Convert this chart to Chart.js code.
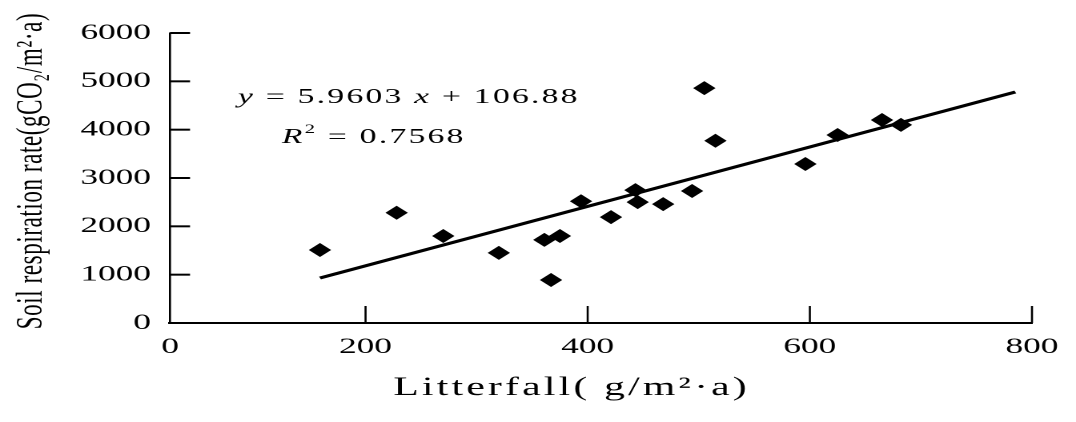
<!DOCTYPE html>
<html>
<head>
<meta charset="utf-8">
<script src="https://cdn.jsdelivr.net/npm/chart.js@4.4.1/dist/chart.umd.min.js"></script>
<style>
  html, body { margin: 0; padding: 0; background: #fff; overflow: hidden; }
  /* the scanned figure is stretched sideways, so draw narrow and widen */
  #wrap { width: 672px; height: 422px; transform: scaleX(1.60119); transform-origin: 0 0; }
</style>
</head>
<body>
<div id="wrap"><canvas id="chart" width="672" height="422"></canvas></div>
<script>
// data
const litterfall  = [159, 228, 270, 320, 361, 375, 367, 394, 421, 443, 445, 468, 494, 505, 515, 596, 625, 665, 682];
const respiration = [1510, 2280, 1800, 1450, 1720, 1800, 890, 2520, 2190, 2750, 2500, 2460, 2730, 4860, 3770, 3290, 3890, 4200, 4100];

// fitted line ends
const trendX = [159, 785];
const trendY = [930, 4780];

// axes
const xAxisMin = 24;            // where the y axis crosses, labelled "0"
const xTickValues = [200, 400, 600, 800];
const yTickValues = [0, 1000, 2000, 3000, 4000, 5000, 6000];

const serif = '"Liberation Serif", "Times New Roman", serif';

const points = litterfall.map((x, i) => ({ x: x, y: respiration[i] }));
const trend = trendX.map((x, i) => ({ x: x, y: trendY[i] }));

// inner tick marks, equation and axis titles
const extras = {
  id: 'extras',
  afterDraw(chart) {
    const { ctx, chartArea, scales } = chart;
    const x = scales.x, y = scales.y;
    ctx.save();
    ctx.strokeStyle = '#000';
    ctx.fillStyle = '#000';

    ctx.lineWidth = 2;
    yTickValues.forEach(v => {
      if (v === 0) return;
      const py = y.getPixelForValue(v);
      ctx.beginPath();
      ctx.moveTo(chartArea.left, py);
      ctx.lineTo(chartArea.left + 12.5, py);
      ctx.stroke();
    });
    ctx.lineWidth = 1.3;
    xTickValues.forEach(v => {
      const px = x.getPixelForValue(v);
      ctx.beginPath();
      ctx.moveTo(px, chartArea.bottom);
      ctx.lineTo(px, chartArea.bottom - 17);
      ctx.stroke();
    });

    // equation
    ctx.letterSpacing = '1.4px';
    ctx.textBaseline = 'alphabetic';
    ctx.textAlign = 'left';
    let cx = 148.6;
    ctx.font = 'italic 21px ' + serif;
    ctx.fillText('y', cx, 103);
    cx += ctx.measureText('y').width;
    ctx.font = '21px ' + serif;
    ctx.fillText(' = 5.9603 ', cx, 103);
    cx += ctx.measureText(' = 5.9603 ').width;
    ctx.font = 'italic 21px ' + serif;
    ctx.fillText('x', cx, 103);
    cx += ctx.measureText('x').width;
    ctx.font = '21px ' + serif;
    ctx.fillText(' + 106.88', cx, 103);

    cx = 176;
    ctx.font = 'italic 21px ' + serif;
    ctx.fillText('R', cx, 143);
    cx += ctx.measureText('R').width;
    ctx.font = '13px ' + serif;
    ctx.fillText('2', cx, 133);
    cx += ctx.measureText('2').width;
    ctx.font = '21px ' + serif;
    ctx.fillText(' = 0.7568', cx, 143);

    // x title
    ctx.letterSpacing = '2px';
    ctx.font = '26px ' + serif;
    ctx.textAlign = 'center';
    ctx.fillText('Litterfall( g/m²·a)', 357, 395);

    // y title
    ctx.letterSpacing = '0.6px';
    ctx.font = '23px ' + serif;
    ctx.translate(26.2, 171);
    ctx.rotate(-Math.PI / 2);
    ctx.fillText('Soil respiration rate(gCO₂/m²·a)', 0, 0);
    ctx.restore();
  }
};

new Chart(document.getElementById('chart'), {
  type: 'scatter',
  data: {
    datasets: [
      {
        label: 'Soil respiration',
        data: points,
        pointStyle: 'rectRot',
        pointRadius: 7,
        backgroundColor: '#000',
        borderColor: '#000',
        borderWidth: 0
      },
      {
        label: 'Fit',
        data: trend,
        showLine: true,
        borderColor: '#000',
        borderWidth: 3,
        pointRadius: 0
      }
    ]
  },
  options: {
    responsive: false,
    animation: false,
    devicePixelRatio: 2,
    layout: { padding: { top: 33, right: 19.4, left: 0, bottom: 0 } },
    plugins: { legend: { display: false }, tooltip: { enabled: false } },
    scales: {
      x: {
        type: 'linear',
        min: xAxisMin,
        max: 800,
        afterBuildTicks: s => { s.ticks = [xAxisMin].concat(xTickValues).map(v => ({ value: v })); },
        afterFit: s => { s.height = 99; },
        grid: { display: false, drawTicks: false },
        border: { display: true, color: '#000', width: 2 },
        ticks: {
          padding: 11,
          color: '#000',
          font: { family: serif, size: 22 },
          maxRotation: 0,
          callback: v => (v === xAxisMin ? '0' : String(v))
        }
      },
      y: {
        min: 0,
        max: 6000,
        afterBuildTicks: s => { s.ticks = yTickValues.map(v => ({ value: v })); },
        afterFit: s => { s.width = 106.2; },
        grid: { display: false, drawTicks: false },
        border: { display: true, color: '#000', width: 1.3 },
        ticks: {
          padding: 12,
          color: '#000',
          font: { family: serif, size: 22 },
          callback: v => String(v)
        }
      }
    }
  },
  plugins: [extras]
});
</script>
</body>
</html>
